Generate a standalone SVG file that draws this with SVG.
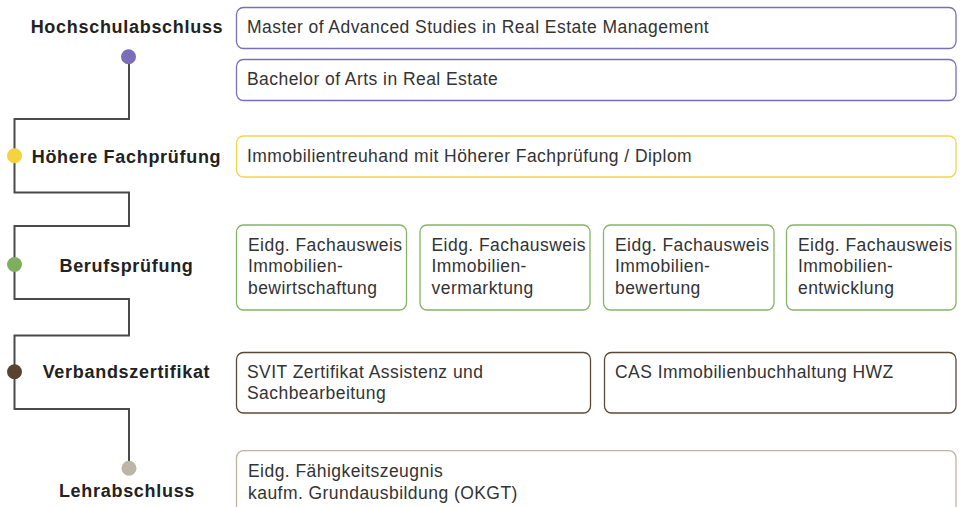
<svg xmlns="http://www.w3.org/2000/svg" width="961" height="507" viewBox="0 0 961 507">
<style>
.lbl{font-family:"Liberation Sans",Arial,sans-serif;font-weight:bold;font-size:18px;fill:#222;text-anchor:middle;letter-spacing:0.7px}
.t{font-family:"Liberation Sans",Arial,sans-serif;font-size:17.5px;fill:#333;letter-spacing:0.45px}
.box{fill:#fff;stroke-width:1.3}
.pu{stroke:#7B6DBA}
.ye{stroke:#F3D54C}
.gr{stroke:#86B365}
.br{stroke:#5C4838}
.be{stroke:#BDB5A3}
.conn{fill:none;stroke:#4a4a4a;stroke-width:2}
</style>
<rect width="961" height="507" fill="#fff"/>
<g id="connectors">
<polyline class="conn" points="129,57 129,119 14.5,119 14.5,192.5 129,192.5 129,226 14.5,226 14.5,299 129,299 129,335.5 14.5,335.5 14.5,409 129,409 129,468"/>
</g>
<g id="dot-hochschul"><circle cx="128.5" cy="56.7" r="7.5" fill="#7B6DBA"/></g>
<g id="dot-hoehere"><circle cx="14.5" cy="155.7" r="7.5" fill="#F3D43F"/></g>
<g id="dot-beruf"><circle cx="14.5" cy="264.5" r="7.5" fill="#7FAE5C"/></g>
<g id="dot-verband"><circle cx="14.5" cy="371.7" r="7.5" fill="#584331"/></g>
<g id="dot-lehr"><circle cx="129" cy="468.3" r="7.5" fill="#BDB5A6"/></g>
<g id="label-hochschul"><text class="lbl" x="127" y="33.3">Hochschulabschluss</text></g>
<g id="label-hoehere"><text class="lbl" x="126.5" y="162.7">Höhere Fachprüfung</text></g>
<g id="label-beruf"><text class="lbl" x="126.5" y="271.7">Berufsprüfung</text></g>
<g id="label-verband"><text class="lbl" x="126.5" y="377.7">Verbandszertifikat</text></g>
<g id="label-lehr"><text class="lbl" x="127" y="496.7">Lehrabschluss</text></g>
<g id="master"><rect class="box pu" x="236.5" y="7.5" width="719.5" height="41" rx="7"/><text class="t" x="247" y="33">Master of Advanced Studies in Real Estate Management</text></g>
<g id="bachelor"><rect class="box pu" x="236.5" y="59.5" width="719.5" height="41" rx="7"/><text class="t" x="247" y="85">Bachelor of Arts in Real Estate</text></g>
<g id="immotreuhand"><rect class="box ye" x="236.5" y="136" width="719.5" height="41" rx="7"/><text class="t" x="247" y="162">Immobilientreuhand mit Höherer Fachprüfung / Diplom</text></g>
<g id="fa-bewirtschaftung"><rect class="box gr" x="236.5" y="225" width="170" height="85" rx="7"/><text class="t" x="248" y="250.7">Eidg. Fachausweis<tspan x="248" y="272.3">Immobilien-</tspan><tspan x="248" y="293.8">bewirtschaftung</tspan></text></g>
<g id="fa-vermarktung"><rect class="box gr" x="420" y="225" width="170" height="85" rx="7"/><text class="t" x="431.5" y="250.7">Eidg. Fachausweis<tspan x="431.5" y="272.3">Immobilien-</tspan><tspan x="431.5" y="293.8">vermarktung</tspan></text></g>
<g id="fa-bewertung"><rect class="box gr" x="603.5" y="225" width="170.5" height="85" rx="7"/><text class="t" x="615" y="250.7">Eidg. Fachausweis<tspan x="615" y="272.3">Immobilien-</tspan><tspan x="615" y="293.8">bewertung</tspan></text></g>
<g id="fa-entwicklung"><rect class="box gr" x="786.5" y="225" width="169.5" height="85" rx="7"/><text class="t" x="798" y="250.7">Eidg. Fachausweis<tspan x="798" y="272.3">Immobilien-</tspan><tspan x="798" y="293.8">entwicklung</tspan></text></g>
<g id="svit"><rect class="box br" x="236.5" y="352.5" width="354" height="60.5" rx="7"/><text class="t" x="247" y="377.7">SVIT Zertifikat Assistenz und<tspan x="247" y="399.3">Sachbearbeitung</tspan></text></g>
<g id="cas"><rect class="box br" x="604.5" y="352.5" width="351.5" height="60.5" rx="7"/><text class="t" x="615" y="377.7">CAS Immobilienbuchhaltung HWZ</text></g>
<g id="efz"><rect class="box be" x="236.5" y="450.7" width="719.5" height="70" rx="7"/><text class="t" x="248" y="476.7">Eidg. Fähigkeitszeugnis<tspan x="248" y="499.3">kaufm. Grundausbildung (OKGT)</tspan></text></g>
</svg>
